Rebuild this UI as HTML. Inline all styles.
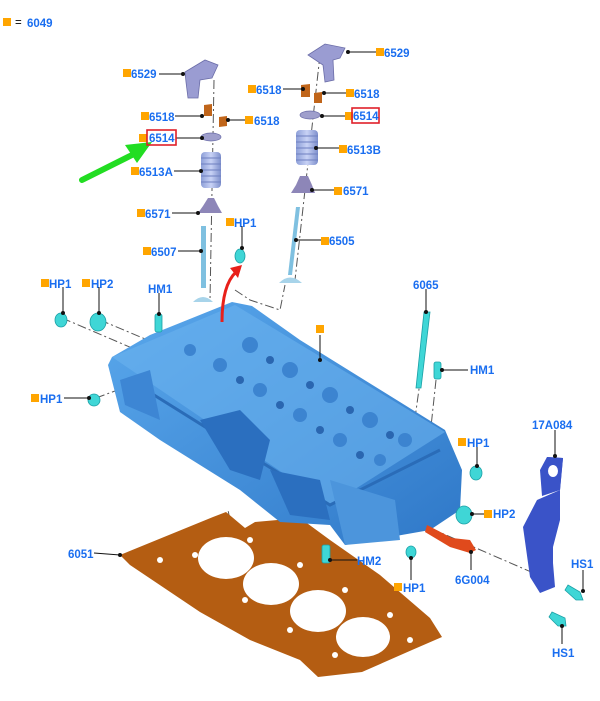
<!DOCTYPE html>
<html><head><meta charset="utf-8"><style>
html,body{margin:0;padding:0;background:#fff;}
svg{display:block}
text{font-family:"Liberation Sans",Arial,sans-serif;font-weight:bold;font-size:11.5px;fill:#1a6ef0}
.sq{fill:#ffa500}
.ln{stroke:#111;stroke-width:1;fill:none}
.dd{stroke:#555;stroke-width:1;fill:none;stroke-dasharray:9 3 2 3}
.dot{fill:#111}
</style></head><body>
<svg width="600" height="701" viewBox="0 0 600 701" xmlns="http://www.w3.org/2000/svg">
<defs>
<linearGradient id="blk" x1="0" y1="0" x2="1" y2="1"><stop offset="0" stop-color="#5aa8ec"/><stop offset="1" stop-color="#2f78c8"/></linearGradient>
<linearGradient id="spr" x1="0" y1="0" x2="1" y2="0"><stop offset="0" stop-color="#8d9fd8"/><stop offset="0.5" stop-color="#c8d2f5"/><stop offset="1" stop-color="#7d8fcc"/></linearGradient>
</defs>

<rect class="sq" x="3" y="18" width="8" height="8"/>
<text x="15" y="26" style="fill:#000;font-weight:normal">=</text>
<text x="27" y="27">6049</text>

<path class="dd" d="M214 80 L210 300"/>
<path class="dd" d="M320 55 L295 280"/>
<path class="dd" d="M62 318 L160 360"/>
<path class="dd" d="M100 320 L200 362"/>
<path class="dd" d="M96 398 L150 378"/>
<path class="dd" d="M235 290 L250 300 L280 310 L285 285"/>
<path class="dd" d="M423 360 L412 440"/>
<path class="dd" d="M436 380 L430 436"/>
<path class="dd" d="M230 520 L228 510"/>
<path class="dd" d="M400 515 L545 578"/>

<!-- gasket -->
<path d="M120 555 L213 517 L226 512 L245 528 L255 522 L300 518 L330 540 L380 575 L430 618 L442 637 L412 650 L362 672 L318 677 L300 660 L250 640 L200 612 L130 565 Z" fill="#b45d12"/>
<ellipse cx="226" cy="558" rx="28" ry="21" fill="#fff"/>
<ellipse cx="271" cy="584" rx="28" ry="21" fill="#fff"/>
<ellipse cx="318" cy="611" rx="28" ry="21" fill="#fff"/>
<ellipse cx="363" cy="637" rx="27" ry="20" fill="#fff"/>
<g fill="#fff"><circle cx="160" cy="560" r="3"/><circle cx="195" cy="555" r="3"/><circle cx="250" cy="540" r="3"/><circle cx="300" cy="565" r="3"/><circle cx="345" cy="590" r="3"/><circle cx="390" cy="615" r="3"/><circle cx="245" cy="600" r="3"/><circle cx="290" cy="630" r="3"/><circle cx="335" cy="655" r="3"/><circle cx="410" cy="640" r="3"/></g>

<!-- cylinder head block -->
<path d="M112 357 L150 335 L232 302 L252 306 L300 340 L445 430 L462 470 L460 510 L430 530 L345 545 L330 525 L280 522 L240 490 L160 440 L120 412 L108 365 Z" fill="url(#blk)"/>
<path d="M112 357 L235 305 L445 432 L330 505 Z" fill="#6ab3ee" opacity="0.6"/>
<path d="M130 380 L330 505 L440 450" stroke="#2a6cb8" stroke-width="3" fill="none"/>
<path d="M200 420 L240 410 L270 440 L260 480 L230 470 Z" fill="#2b6fbf"/>
<path d="M270 470 L320 480 L330 520 L290 515 Z" fill="#2b6fbf"/>
<path d="M330 480 L395 500 L400 540 L345 545 Z" fill="#4c95dc"/>
<path d="M120 380 L150 370 L160 420 L125 405 Z" fill="#3d86d4"/>
<g fill="#3c84d0"><circle cx="250" cy="345" r="8"/><circle cx="290" cy="370" r="8"/><circle cx="330" cy="395" r="8"/><circle cx="370" cy="420" r="8"/><circle cx="220" cy="365" r="7"/><circle cx="260" cy="390" r="7"/><circle cx="300" cy="415" r="7"/><circle cx="340" cy="440" r="7"/><circle cx="405" cy="440" r="7"/><circle cx="380" cy="460" r="6"/><circle cx="190" cy="350" r="6"/></g>
<g fill="#2a66b0"><circle cx="270" cy="360" r="4"/><circle cx="310" cy="385" r="4"/><circle cx="350" cy="410" r="4"/><circle cx="390" cy="435" r="4"/><circle cx="240" cy="380" r="4"/><circle cx="280" cy="405" r="4"/><circle cx="320" cy="430" r="4"/><circle cx="360" cy="455" r="4"/></g>

<!-- valvetrain left -->
<path d="M185 72 L205 60 L218 65 L212 78 L200 80 L198 98 L188 98 L186 82 Z" fill="#9a9cd2" stroke="#6b6da8" stroke-width="0.8"/>
<path d="M204 105 L212 104 L212 116 L204 116 Z" fill="#c0651a"/>
<path d="M219 117 L227 116 L227 126 L219 127 Z" fill="#c0651a"/>
<ellipse cx="211" cy="137" rx="10" ry="4" fill="#9f9fcc" stroke="#6b6da8" stroke-width="0.7"/>
<rect x="201" y="152" width="20" height="36" rx="4" fill="url(#spr)"/>
<g stroke="#6e7fc0" stroke-width="1"><path d="M201 158 H221 M201 164 H221 M201 170 H221 M201 176 H221 M201 182 H221"/></g>
<path d="M203 206 L208 198 L214 198 L218 206 L222 213 L198 213 Z" fill="#8d86b8"/>
<rect x="201" y="226" width="5" height="62" fill="#7fc0e0"/>
<path d="M193 302 Q203 292 213 302 Z" fill="#a8d4ea"/>
<!-- valvetrain right -->
<path d="M308 55 L325 44 L345 48 L340 58 L333 60 L334 80 L325 82 L323 65 Z" fill="#9a9cd2" stroke="#6b6da8" stroke-width="0.8"/>
<path d="M301 85 L310 84 L310 97 L301 97 Z" fill="#c0651a"/>
<path d="M314 93 L322 92 L322 103 L314 103 Z" fill="#c0651a"/>
<ellipse cx="310" cy="115" rx="10" ry="4" fill="#9f9fcc" stroke="#6b6da8" stroke-width="0.7"/>
<rect x="296" y="130" width="22" height="35" rx="4" fill="url(#spr)"/>
<g stroke="#6e7fc0" stroke-width="1"><path d="M296 136 H318 M296 142 H318 M296 148 H318 M296 154 H318 M296 160 H318"/></g>
<path d="M296 185 L300 176 L308 176 L312 185 L315 193 L291 193 Z" fill="#8d86b8"/>
<path d="M296 207 L300 207 L292 275 L288 275 Z" fill="#7fc0e0"/>
<path d="M279 283 Q290 272 302 283 Z" fill="#a8d4ea"/>

<g fill="#3fd6d6" stroke="#1ba0a6" stroke-width="0.8">
<ellipse cx="61" cy="320" rx="6" ry="7"/>
<ellipse cx="98" cy="322" rx="8" ry="9"/>
<rect x="155" y="314" width="7" height="18" rx="2"/>
<ellipse cx="94" cy="400" rx="6" ry="6"/>
<ellipse cx="240" cy="256" rx="5" ry="7"/>
<path d="M424 312 L430 312 L421 388 L416 388 Z"/>
<rect x="434" y="362" width="7" height="17" rx="2"/>
<ellipse cx="476" cy="473" rx="6" ry="7"/>
<ellipse cx="464" cy="515" rx="8" ry="9"/>
<rect x="322" y="545" width="8" height="18" rx="2"/>
<ellipse cx="411" cy="552" rx="5" ry="6"/>
<path d="M568 585 L580 592 L583 600 L576 600 L565 590 Z"/>
<path d="M552 612 L565 618 L566 626 L558 626 L549 617 Z"/>
</g>
<path d="M427 525 L452 538 L470 540 L476 550 L470 553 L450 547 L425 532 Z" fill="#e04a1c"/>
<path d="M547 457 L563 458 L560 490 L537 500 L523 527 L530 577 L540 593 L555 587 L553 563 L553 547 L560 520 L560 490 Z" fill="#3a53c8"/>
<path d="M547 457 L563 458 L560 490 L542 496 L540 470 Z" fill="#3a53c8"/>
<ellipse cx="553" cy="471" rx="5" ry="6" fill="#fff"/>

<path d="M82 180 L132 155" stroke="#22dd22" stroke-width="6" stroke-linecap="round"/>
<path d="M125 145 L152 142 L137 163 Z" fill="#22dd22"/>
<path d="M222 322 Q222 285 236 272" stroke="#e8201a" stroke-width="3" fill="none"/>
<path d="M230 268 L242 265 L238 278 Z" fill="#e8201a"/>

<g class="ln">
<path d="M159 74 L183 74"/><path d="M348 52 L376 52"/>
<path d="M283 89 L303 89"/><path d="M324 93 L346 93"/>
<path d="M322 116 L350 116"/><path d="M316 148 L339 148"/>
<path d="M312 190 L336 190"/><path d="M296 240 L321 240"/>
<path d="M175 116 L202 116"/><path d="M228 120 L245 120"/>
<path d="M176 138 L202 138"/><path d="M174 171 L201 171"/>
<path d="M172 213 L198 213"/><path d="M242 226 L242 248"/>
<path d="M178 251 L201 251"/>
<path d="M63 287 L63 313"/><path d="M99 287 L99 313"/><path d="M159 293 L159 314"/>
<path d="M426 289 L426 312"/><path d="M442 370 L468 370"/>
<path d="M64 398 L89 398"/><path d="M477 447 L477 466"/>
<path d="M472 514 L490 514"/><path d="M555 430 L555 456"/>
<path d="M94 553 L120 555"/><path d="M330 560 L357 560"/>
<path d="M411 558 L411 580"/><path d="M471 552 L471 570"/>
<path d="M583 570 L583 591"/><path d="M562 626 L562 644"/>
<path d="M320 335 L320 360"/>
</g>
<g class="dot">
<circle cx="183" cy="74" r="2"/><circle cx="348" cy="52" r="2"/><circle cx="303" cy="89" r="2"/><circle cx="324" cy="93" r="2"/><circle cx="322" cy="116" r="2"/><circle cx="316" cy="148" r="2"/><circle cx="312" cy="190" r="2"/><circle cx="296" cy="240" r="2"/><circle cx="202" cy="116" r="2"/><circle cx="228" cy="120" r="2"/><circle cx="202" cy="138" r="2"/><circle cx="201" cy="171" r="2"/><circle cx="198" cy="213" r="2"/><circle cx="242" cy="248" r="2"/><circle cx="201" cy="251" r="2"/><circle cx="63" cy="313" r="2"/><circle cx="99" cy="313" r="2"/><circle cx="159" cy="314" r="2"/><circle cx="426" cy="312" r="2"/><circle cx="442" cy="370" r="2"/><circle cx="89" cy="398" r="2"/><circle cx="477" cy="466" r="2"/><circle cx="472" cy="514" r="2"/><circle cx="555" cy="456" r="2"/><circle cx="120" cy="555" r="2"/><circle cx="330" cy="560" r="2"/><circle cx="411" cy="558" r="2"/><circle cx="471" cy="552" r="2"/><circle cx="583" cy="591" r="2"/><circle cx="562" cy="626" r="2"/><circle cx="320" cy="360" r="2"/>
</g>

<rect class="sq" x="123" y="69" width="8" height="8"/><text x="131" y="78">6529</text>
<rect class="sq" x="376" y="48" width="8" height="8"/><text x="384" y="57">6529</text>
<rect class="sq" x="248" y="85" width="8" height="8"/><text x="256" y="94">6518</text>
<rect class="sq" x="346" y="89" width="8" height="8"/><text x="354" y="98">6518</text>
<rect class="sq" x="345" y="112" width="8" height="8"/><rect x="352" y="108" width="27" height="15" fill="none" stroke="#e0202a" stroke-width="1.6"/><text x="353" y="120">6514</text>
<rect class="sq" x="339" y="145" width="8" height="8"/><text x="347" y="154">6513B</text>
<rect class="sq" x="334" y="187" width="8" height="8"/><text x="343" y="195">6571</text>
<rect class="sq" x="321" y="237" width="8" height="8"/><text x="329" y="245">6505</text>
<rect class="sq" x="141" y="112" width="8" height="8"/><text x="149" y="121">6518</text>
<rect class="sq" x="245" y="116" width="8" height="8"/><text x="254" y="125">6518</text>
<rect class="sq" x="139" y="134" width="8" height="8"/><rect x="147" y="130" width="29" height="15" fill="none" stroke="#e0202a" stroke-width="1.6"/><text x="149" y="142">6514</text>
<rect class="sq" x="131" y="167" width="8" height="8"/><text x="139" y="176">6513A</text>
<rect class="sq" x="137" y="209" width="8" height="8"/><text x="145" y="218">6571</text>
<rect class="sq" x="226" y="218" width="8" height="8"/><text x="234" y="227">HP1</text>
<rect class="sq" x="143" y="247" width="8" height="8"/><text x="151" y="256">6507</text>
<rect class="sq" x="41" y="279" width="8" height="8"/><text x="49" y="288">HP1</text>
<rect class="sq" x="82" y="279" width="8" height="8"/><text x="91" y="288">HP2</text>
<text x="148" y="293">HM1</text>
<rect class="sq" x="316" y="325" width="8" height="8"/>
<text x="413" y="289">6065</text>
<text x="470" y="374">HM1</text>
<rect class="sq" x="31" y="394" width="8" height="8"/><text x="40" y="403">HP1</text>
<rect class="sq" x="458" y="438" width="8" height="8"/><text x="467" y="447">HP1</text>
<rect class="sq" x="484" y="510" width="8" height="8"/><text x="493" y="518">HP2</text>
<text x="532" y="429">17A084</text>
<text x="68" y="558">6051</text>
<text x="357" y="565">HM2</text>
<rect class="sq" x="394" y="583" width="8" height="8"/><text x="403" y="592">HP1</text>
<text x="455" y="584">6G004</text>
<text x="571" y="568">HS1</text>
<text x="552" y="657">HS1</text>
</svg>
</body></html>
